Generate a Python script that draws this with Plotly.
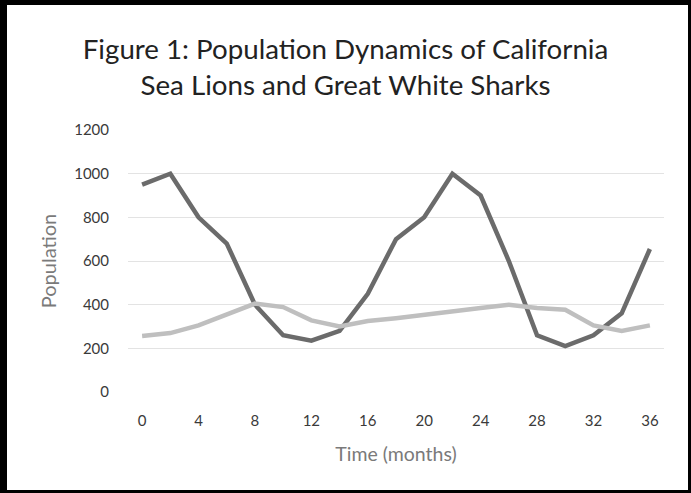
import plotly.graph_objects as go

# Time in months (every 2 months) and population counts
months = [0, 2, 4, 6, 8, 10, 12, 14, 16, 18, 20, 22, 24, 26, 28, 30, 32, 34, 36]
sea_lions = [950, 1000, 800, 680, 400, 260, 235, 280, 450, 700, 800, 1000, 900, 600, 260, 210, 260, 360, 655]
sharks = [257, 270, 305, 356, 405, 389, 328, 300, 325, 338, 355, 370, 385, 400, 385, 377, 305, 280, 305]
x_tick_vals = [0, 4, 8, 12, 16, 20, 24, 28, 32, 36]
y_tick_vals = [0, 200, 400, 600, 800, 1000, 1200]

W, H = 691, 493
L, R, T, B = 128, 27, 130, 101
pw, ph = W - L - R, H - T - B

FONT = "Lato"
fig = go.Figure()
fig.add_trace(go.Scatter(x=months, y=sea_lions, mode="lines", name="California Sea Lions",
                         line=dict(color="#6b6b6b", width=4.5)))
fig.add_trace(go.Scatter(x=months, y=sharks, mode="lines", name="Great White Sharks",
                         line=dict(color="#bfbfbf", width=4.5)))


def px_x(p):
    return (p - L) / pw


def px_y(p):
    return 1 - (p - T) / ph


# frame around the whole figure: heavier at top/left, thinner at bottom/right
frame = [
    (0, 0, W, 5),
    (0, 0, 7, H),
    (0, H - 3, W, H),
    (W - 3, 0, W, H),
]
shapes = []
for x0, y0, x1, y1 in frame:
    shapes.append(dict(type="rect", xref="paper", yref="paper",
                       x0=px_x(x0), x1=px_x(x1), y0=px_y(y1), y1=px_y(y0),
                       fillcolor="black", line=dict(width=0), layer="above"))

fig.update_layout(
    width=W, height=H,
    margin=dict(l=L, r=R, t=T, b=B),
    paper_bgcolor="white", plot_bgcolor="white",
    showlegend=False,
    shapes=shapes,
    font=dict(family=FONT, color="#3a3a3a", size=15),
    title=dict(
        text="Figure 1: Population Dynamics of California<br>Sea Lions and Great White Sharks",
        x=0.5, xref="container", xanchor="center", y=1 - 59 / H, yanchor="middle",
        font=dict(family=FONT, size=27.7, color="#222222"),
    ),
    xaxis=dict(
        range=[-1, 37], tickmode="array", tickvals=x_tick_vals,
        showgrid=False, zeroline=False, showline=False, ticks="",
        ticklabelstandoff=18,
        title=dict(text="Time (months)", standoff=19, font=dict(size=19.5, color="#7a7a7a")),
    ),
    yaxis=dict(
        range=[0, 1200], tickmode="array", tickvals=y_tick_vals,
        showgrid=True, gridcolor="#e3e3e3", gridwidth=1,
        zeroline=False, showline=False, ticks="",
        ticklabelstandoff=18,
        title=dict(text="Population", standoff=12, font=dict(size=20, color="#7a7a7a")),
    ),
)

fig.write_html("out.html")
